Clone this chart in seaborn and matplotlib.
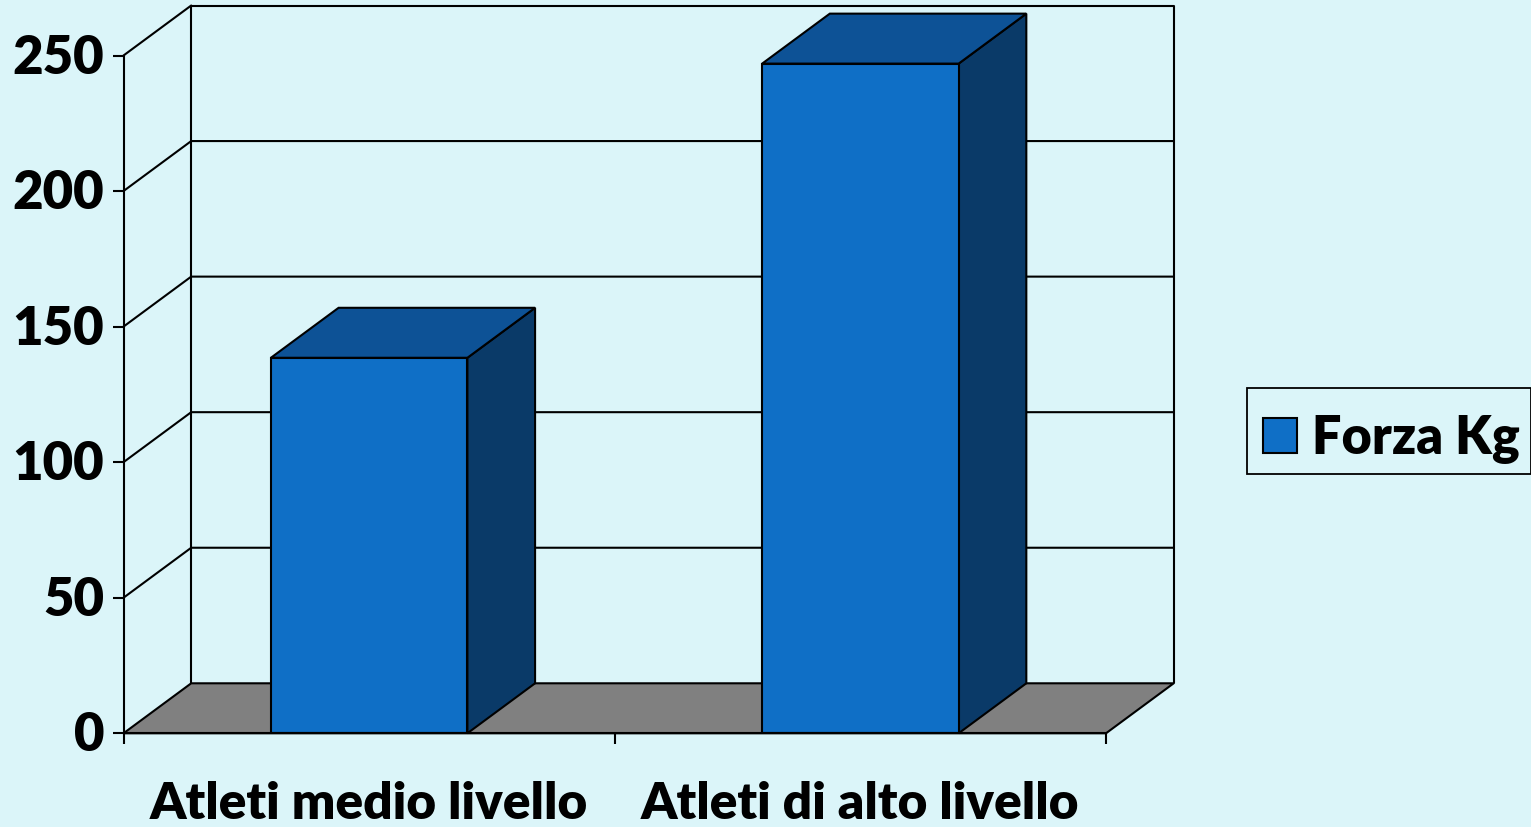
import matplotlib
matplotlib.use("Agg")
import matplotlib.pyplot as plt
from matplotlib.patches import Patch, Rectangle
from matplotlib.transforms import ScaledTranslation
import pandas as pd
import seaborn as sns

categories = ["Atleti medio livello", "Atleti di alto livello"]
values = [138.5, 247]
series_name = "Forza Kg"
y_ticks = [0, 50, 100, 150, 200, 250]

BG = "#DBF5F9"
FRONT = "#0F6FC6"
TOP = "#0D5296"
SIDE = "#0A3A68"
FLOOR = "#808080"
W, H = 1531, 828
L, R, B, T = 123.5, 1106, 734.3, 56.5

sns.set_theme(style="white")
plt.rcParams["font.family"] = ["Lato", "DejaVu Sans"]
plt.rcParams["font.weight"] = "heavy"

fig = plt.figure(figsize=(W / 100, H / 100), dpi=100, facecolor=BG)
ax = fig.add_axes([L / W, 1 - B / H, (R - L) / W, (B - T) / H])
ax.set_facecolor("none")

df = pd.DataFrame({"cat": categories, "val": values})
sns.barplot(data=df, x="cat", y="val", ax=ax, color=FRONT, saturation=1, width=0.4,
            edgecolor="black", linewidth=1.5, zorder=5)
ax.set_xlim(-0.5, 1.5)
ax.set_ylim(0, 250)

# depth of the pseudo-3D box, in data units
dx = 67.7 / ((R - L) / 2)
dy = 50 / ((B - T) / 250)
x0, x1 = -0.5, 1.5
top = 250 + dy
lw = 1.5

ax.fill([x0, x1, x1 + dx, x0 + dx], [0, 0, dy, dy], fc=FLOOR, ec="black", lw=lw, zorder=1, clip_on=False)
ax.plot([x0 + dx, x0 + dx, x1 + dx, x1 + dx], [dy, top, top, dy],
        color="black", lw=lw, zorder=1, clip_on=False)
ax.plot([x0, x0 + dx], [250, top], color="black", lw=lw, zorder=1, clip_on=False)
for v in y_ticks[1:-1]:
    ax.plot([x0, x0 + dx, x1 + dx], [v, v + dy, v + dy], color="black", lw=lw, zorder=1, clip_on=False)

for patch in ax.containers[0]:
    a, w, h = patch.get_x(), patch.get_width(), patch.get_height()
    ax.fill([a + w, a + w + dx, a + w + dx, a + w], [0, dy, h + dy, h], fc=SIDE, ec="black", lw=lw, zorder=4, clip_on=False)
    ax.fill([a, a + w, a + w + dx, a + dx], [h, h, h + dy, h + dy], fc=TOP, ec="black", lw=lw, zorder=4, clip_on=False)

for s in ["top", "right"]:
    ax.spines[s].set_visible(False)
for s in ["left", "bottom"]:
    ax.spines[s].set_color("black")
    ax.spines[s].set_linewidth(lw)
    ax.spines[s].set_zorder(6)

ax.set_xlabel("")
ax.set_ylabel("")
ax.set_yticks(y_ticks)
ax.set_yticklabels([str(v) for v in y_ticks], fontsize=38, fontweight="heavy", color="black")
ax.tick_params(axis="y", left=True, length=8, width=lw, color="black", direction="out", pad=6)
shift = ScaledTranslation(0, 3 / 100, fig.dpi_scale_trans)
for lab in ax.get_yticklabels():
    lab.set_transform(lab.get_transform() + shift)
ax.set_xticks([-0.5, 0.5, 1.5])
ax.set_xticklabels(["", "", ""])
ax.tick_params(axis="x", bottom=True, length=8, width=lw, color="black", direction="out")
for i, c in enumerate(categories):
    ax.annotate(c, xy=(i, 0), xycoords=("data", "axes fraction"), xytext=(0, -70), textcoords="offset pixels",
                ha="center", va="center", fontsize=37, fontweight="heavy", color="black")

fig.add_artist(Rectangle((1247 / W, 1 - 475 / H), 283.5 / W, 86 / H, transform=fig.transFigure,
                         fc=BG, ec="black", lw=1.3))
leg = fig.legend(handles=[Patch(fc=FRONT, ec="black", lw=1.5, label=series_name)],
                 loc="center left", bbox_to_anchor=(1247 / W, 1 - 439.5 / H), frameon=False,
                 fontsize=37.5, labelcolor="black",
                 handlelength=0.66, handleheight=0.66, handletextpad=0.28, borderpad=0.3, borderaxespad=0)
fig.savefig("out.png", dpi=100, facecolor=BG)
